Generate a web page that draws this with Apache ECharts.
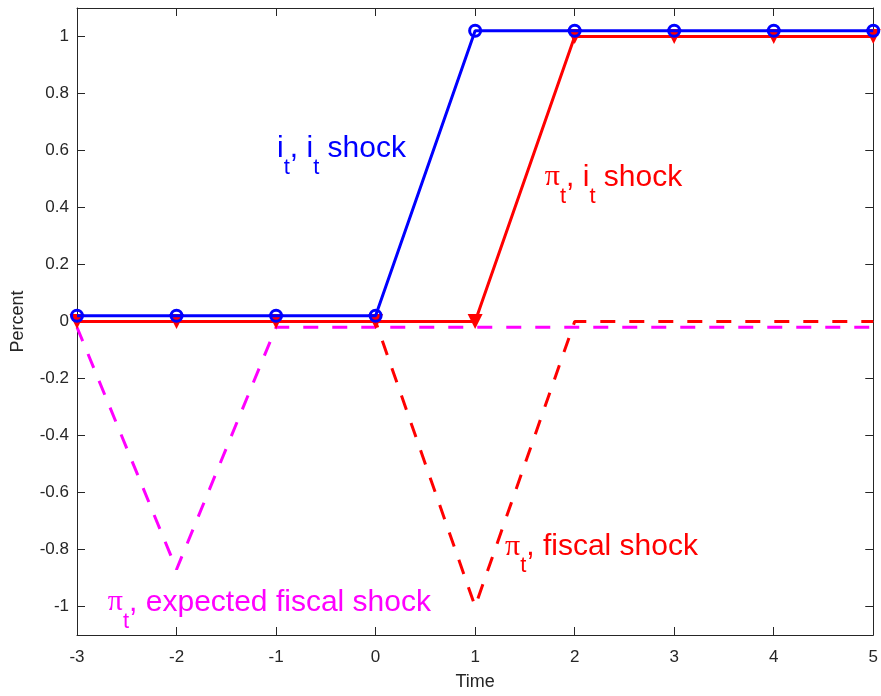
<!DOCTYPE html>
<html>
<head>
<meta charset="utf-8">
<script src="https://cdn.jsdelivr.net/npm/echarts@6/dist/echarts.min.js"></script>
<style>
  html, body { margin: 0; padding: 0; background: #fff; }
  #main { width: 881px; height: 696px; }
</style>
</head>
<body>
<div id="main"></div>
<script>
// Impulse responses, periods -3 .. 5
const periods = [-3, -2, -1, 0, 1, 2, 3, 4, 5];
const iRateIShock   = [0.02, 0.02, 0.02, 0.02, 1.02, 1.02, 1.02, 1.02, 1.02];
const piIShock      = [0, 0, 0, 0, 0, 1, 1, 1, 1];
const piFiscalShock = [0, 0, 0, 0, -1, 0, 0, 0, 0];
const piExpFiscal   = [-0.02, -0.87, -0.02, -0.02, -0.02, -0.02, -0.02, -0.02, -0.02];

const yTicks = [-1, -0.8, -0.6, -0.4, -0.2, 0, 0.2, 0.4, 0.6, 0.8, 1];
const xTicks = [-3, -2, -1, 0, 1, 2, 3, 4, 5];

const pair = (ys) => periods.map((x, i) => [x, ys[i]]);

const axisColor = '#262626';
const font = 'Liberation Sans, Arial, Helvetica, sans-serif';

const chart = echarts.init(document.getElementById('main'), null, { renderer: 'canvas' });

const baseX = {
  type: 'value', min: -3, max: 5, interval: 1,
  axisLine: { show: true, onZero: false, lineStyle: { color: axisColor, width: 1 } },
  axisTick: { show: true, inside: true, length: 8, lineStyle: { color: axisColor } },
  splitLine: { show: false }
};
const baseY = {
  type: 'value', min: -1.1, max: 1.1,
  axisLine: { show: true, onZero: false, lineStyle: { color: axisColor, width: 1 } },
  axisTick: { show: true, inside: true, length: 8, customValues: yTicks, lineStyle: { color: axisColor } },
  splitLine: { show: false }
};

chart.setOption({
  animation: false,
  backgroundColor: '#fff',
  grid: { left: 77, right: 4, top: 8, bottom: 59 },
  xAxis: [
    Object.assign({}, baseX, {
      position: 'bottom',
      name: 'Time', nameLocation: 'middle', nameGap: 38,
      nameTextStyle: { color: axisColor, fontSize: 18, fontFamily: font },
      axisLabel: { color: axisColor, fontSize: 17, fontFamily: font, margin: 14, customValues: xTicks }
    }),
    Object.assign({}, baseX, { position: 'top', axisLabel: { show: false } })
  ],
  yAxis: [
    Object.assign({}, baseY, {
      position: 'left',
      name: 'Percent', nameLocation: 'middle', nameGap: 50,
      nameTextStyle: { color: axisColor, fontSize: 18, fontFamily: font },
      axisLabel: { color: axisColor, fontSize: 17, fontFamily: font, margin: 8, customValues: yTicks }
    }),
    Object.assign({}, baseY, { position: 'right', axisLabel: { show: false } })
  ],
  series: [
    {
      name: 'pi expected fiscal shock', type: 'line', data: pair(piExpFiscal),
      showSymbol: false, symbol: 'none',
      lineStyle: { color: '#ff00ff', width: 3, type: [15, 14] }, z: 2
    },
    {
      name: 'pi fiscal shock', type: 'line', data: pair(piFiscalShock),
      showSymbol: false, symbol: 'none',
      lineStyle: { color: '#ff0000', width: 3, type: [15, 14] }, z: 3
    },
    {
      name: 'pi i shock', type: 'line', data: pair(piIShock),
      symbol: 'triangle', symbolRotate: 180, symbolSize: 15,
      itemStyle: { color: '#ff0000' },
      lineStyle: { color: '#ff0000', width: 3 }, z: 4
    },
    {
      name: 'i i shock', type: 'line', data: pair(iRateIShock),
      symbol: 'circle', symbolSize: 11,
      itemStyle: { color: 'rgba(0,0,0,0)', borderColor: '#0000ff', borderWidth: 3 },
      lineStyle: { color: '#0000ff', width: 3 }, z: 5
    }
  ]
});

// Curve annotations: [x, y] is the left end of the text baseline in data units
const notes = [
  { at: [-0.99, 0.578], color: '#0000ff', text: '{m|i}{s|t}{m|, i}{s|t}{m| shock}' },
  { at: [1.70, 0.477], color: '#ff0000', text: '{g|π}{s|t}{m|, i}{s|t}{m| shock}' },
  { at: [1.30, -0.819], color: '#ff0000', text: '{g|π}{s|t}{m|, fiscal shock}' },
  { at: [-2.69, -1.014], color: '#ff00ff', text: '{g|π}{s|t}{m|, expected fiscal shock}' }
];

const mainSize = 30;
const rich = {
  m: { fontSize: mainSize, fontFamily: font, lineHeight: 32, verticalAlign: 'top' },
  g: { fontSize: mainSize, fontFamily: 'Liberation Serif, Times New Roman, serif', lineHeight: 32, verticalAlign: 'top' },
  s: { fontSize: 22, fontFamily: font, lineHeight: 24, padding: [23, 0, 0, 0], verticalAlign: 'top' }
};
// offset from the top of the text box to the main baseline
const baselineDrop = 23;

chart.setOption({
  graphic: notes.map((n) => {
    const p = chart.convertToPixel({ gridIndex: 0 }, n.at);
    return {
      type: 'text', x: p[0], y: p[1] - baselineDrop, silent: true,
      style: {
        text: n.text, fill: n.color, align: 'left', verticalAlign: 'top',
        rich: JSON.parse(JSON.stringify(rich))
      }
    };
  })
});
</script>
</body>
</html>
